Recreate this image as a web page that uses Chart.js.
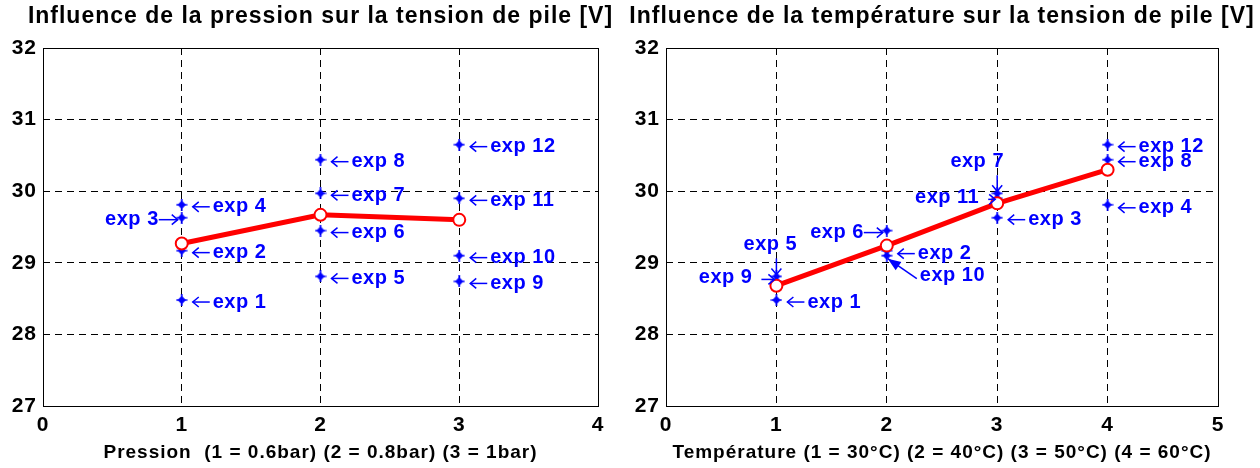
<!DOCTYPE html>
<html lang="fr">
<head>
<meta charset="utf-8">
<title>Tension de pile</title>
<script src="https://cdn.jsdelivr.net/npm/chart.js@4.4.1/dist/chart.umd.min.js"></script>
<style>
  html, body { margin: 0; padding: 0; background: #fff; }
  .rangee { display: flex; width: 1260px; height: 468px; }
  .rangee div { width: 630px; height: 468px; }
</style>
</head>
<body>
<div class="rangee">
  <div><canvas id="pressionChart" width="630" height="468"></canvas></div>
  <div><canvas id="temperatureChart" width="630" height="468"></canvas></div>
</div>
<script>
// Tension mesurée pour chacune des 12 expériences [V]
const expNoms = ['exp 1', 'exp 2', 'exp 3', 'exp 4', 'exp 5', 'exp 6',
                 'exp 7', 'exp 8', 'exp 9', 'exp 10', 'exp 11', 'exp 12'];
const tensionExp = [28.48, 29.17, 29.63, 29.81, 28.81, 29.45,
                    29.97, 30.44, 28.74, 29.10, 29.90, 30.65];

// Niveau de pression et de température de chaque expérience
const niveauPression = [1, 1, 1, 1, 2, 2, 2, 2, 3, 3, 3, 3];
const niveauTemperature = [1, 2, 3, 4, 1, 2, 3, 4, 1, 2, 3, 4];

// Tension moyenne par niveau
const moyennePression = [29.27, 29.67, 29.60];
const moyenneTemperature = [28.68, 29.24, 29.83, 30.30];

// Graduations
const ticksY = [27, 28, 29, 30, 31, 32];
const ticksXPression = [0, 1, 2, 3, 4];
const ticksXTemperature = [0, 1, 2, 3, 4, 5];

// Placement des étiquettes (par défaut : flèche à droite du point)
const placePression = {
  2: { sens: 'gauche' }
};
const placeTemperature = {
  1: { dy: 3 },
  3: { dy: 3 },
  4: { sens: 'haut', dx: -6 },
  5: { sens: 'gauche' },
  6: { sens: 'haut', dx: -20 },
  7: { dy: 2 },
  8: { sens: 'trait', ecart: 25, dy: -4 },
  9: { sens: 'diag' },
  10: { sens: 'trait', ecart: 19, dy: -1 }
};

const BLEU = '#0000ff';
const ROUGE = '#ff0000';
const POLICE = '"Liberation Sans", Arial, Helvetica, sans-serif';
const ESPACEMENT = '1px';

// marqueur des mesures : petit losange plein avec branches
function marqueurMesure() {
  const c = document.createElement('canvas');
  c.width = 12; c.height = 12;
  const g = c.getContext('2d');
  g.fillStyle = BLEU;
  g.strokeStyle = BLEU;
  g.lineWidth = 1.6;
  g.beginPath();
  g.moveTo(6, 1.5); g.lineTo(10, 6); g.lineTo(6, 10.5); g.lineTo(2, 6);
  g.closePath();
  g.fill();
  g.beginPath();
  g.moveTo(6, 0); g.lineTo(6, 12);
  g.moveTo(0.5, 6); g.lineTo(11.5, 6);
  g.stroke();
  return c;
}
const marqueur = marqueurMesure();

function fleche(ctx, x1, y1, x2, y2, pleine) {
  const ang = Math.atan2(y2 - y1, x2 - x1);
  ctx.beginPath();
  ctx.moveTo(x1, y1);
  ctx.lineTo(x2, y2);
  ctx.stroke();
  const L = pleine ? 13 : 6, W = 5;
  const bx = x2 - L * Math.cos(ang), by = y2 - L * Math.sin(ang);
  const px = -Math.sin(ang) * W, py = Math.cos(ang) * W;
  ctx.beginPath();
  if (pleine) {
    ctx.moveTo(x2, y2);
    ctx.lineTo(bx + px, by + py);
    ctx.lineTo(bx - px, by - py);
    ctx.closePath();
    ctx.fill();
  } else {
    ctx.moveTo(bx + px, by + py);
    ctx.lineTo(x2, y2);
    ctx.lineTo(bx - px, by - py);
    ctx.stroke();
  }
}

// texte un peu plus large, comme les polices du tracé d'origine
const espacement = {
  id: 'espacement',
  afterInit(chart) { chart.ctx.letterSpacing = ESPACEMENT; },
  beforeUpdate(chart) { chart.ctx.letterSpacing = ESPACEMENT; },
  beforeDraw(chart) { chart.ctx.letterSpacing = ESPACEMENT; }
};

// titre centré sur la zone de tracé, sans compression de largeur
const titre = {
  id: 'titre',
  afterDraw(chart, args, opts) {
    const { ctx, chartArea: a } = chart;
    ctx.save();
    ctx.font = 'bold 23px ' + POLICE;
    ctx.fillStyle = '#000';
    ctx.textAlign = 'center';
    ctx.textBaseline = 'middle';
    ctx.fillText(opts.texte, (a.left + a.right) / 2, 17);
    ctx.restore();
  }
};

// cadre plein autour de la zone de tracé
const cadre = {
  id: 'cadre',
  beforeDatasetsDraw(chart) {
    const { ctx, chartArea: a } = chart;
    ctx.save();
    ctx.strokeStyle = '#000';
    ctx.lineWidth = 1;
    ctx.strokeRect(Math.round(a.left) + 0.5, Math.round(a.top) + 0.5,
                   Math.round(a.width), Math.round(a.height));
    ctx.restore();
  }
};

// étiquettes "exp n" avec flèches
const etiquettes = {
  id: 'etiquettes',
  afterDatasetsDraw(chart, args, opts) {
    const { ctx } = chart;
    const meta = chart.getDatasetMeta(1);
    ctx.save();
    ctx.font = 'bold 20px ' + POLICE;
    ctx.letterSpacing = '0.5px';
    ctx.fillStyle = BLEU;
    ctx.strokeStyle = BLEU;
    ctx.lineWidth = 1.5;
    ctx.textBaseline = 'middle';
    meta.data.forEach((pt, i) => {
      const p = Object.assign({ sens: 'droite', dx: 0, dy: 2 }, opts.placement[i] || {});
      const x = pt.x, y = pt.y;
      const nom = expNoms[i];
      if (p.sens === 'droite') {
        fleche(ctx, x + 28, y + p.dy, x + 11, y + p.dy, false);
        ctx.textAlign = 'left';
        ctx.fillText(nom, x + 31, y + p.dy);
      } else if (p.sens === 'gauche') {
        fleche(ctx, x - 23, y + p.dy, x - 4, y + p.dy, false);
        ctx.textAlign = 'right';
        ctx.fillText(nom, x - 23, y + p.dy);
      } else if (p.sens === 'haut') {
        fleche(ctx, x, y - 18, x, y - 2, false);
        ctx.textAlign = 'center';
        ctx.fillText(nom, x + p.dx, y - 32);
      } else if (p.sens === 'trait') {
        fleche(ctx, x - p.ecart + 10, y + p.dy + 2, x - 2, y + p.dy + 2, false);
        ctx.textAlign = 'right';
        ctx.fillText(nom, x - p.ecart + 1, y + p.dy);
      } else if (p.sens === 'diag') {
        fleche(ctx, x + 30, y + 23, x + 1, y + 3, true);
        ctx.textAlign = 'left';
        ctx.fillText(nom, x + 33, y + 20);
      }
    });
    ctx.restore();
  }
};

function creerGraphique(id, texteTitre, titreX, niveaux, moyennes, ticksX, placement, largeurY, margeDroite) {
  const mesures = tensionExp.map((v, i) => ({ x: niveaux[i], y: v }));
  const ligne = moyennes.map((v, i) => ({ x: i + 1, y: v }));
  const grille = (bornes) => ({
    color: (c) => (c.tick && (c.tick.value === bornes[0] || c.tick.value === bornes[1])) ? 'rgba(0,0,0,0)' : '#000',
    lineWidth: 1,
    drawTicks: false
  });
  return new Chart(document.getElementById(id), {
    type: 'scatter',
    data: {
      datasets: [
        {
          label: 'moyenne',
          data: ligne,
          showLine: true,
          borderColor: ROUGE,
          borderWidth: 5,
          pointStyle: 'circle',
          pointRadius: 6,
          pointBorderWidth: 2,
          pointBorderColor: ROUGE,
          pointBackgroundColor: '#fff',
          order: 0
        },
        {
          label: 'mesures',
          data: mesures,
          showLine: false,
          pointStyle: marqueur,
          pointRadius: 6,
          order: 1
        }
      ]
    },
    options: {
      responsive: false,
      animation: false,
      devicePixelRatio: 1,
      layout: { padding: { left: 0, right: margeDroite, top: 48, bottom: 0 } },
      plugins: {
        legend: { display: false },
        tooltip: { enabled: false },
        title: { display: false },
        titre: { texte: texteTitre },
        etiquettes: { placement: placement }
      },
      scales: {
        x: {
          type: 'linear',
          min: ticksX[0],
          max: ticksX[ticksX.length - 1],
          afterBuildTicks: (s) => { s.ticks = ticksX.map(v => ({ value: v })); },
          afterFit: (s) => { s.height = 62; },
          grid: grille([ticksX[0], ticksX[ticksX.length - 1]]),
          border: { display: false, dash: [7, 5] },
          ticks: { color: '#000', padding: 7, maxRotation: 0,
                   font: { family: POLICE, size: 21, weight: 'bold' } },
          title: {
            display: true,
            text: titreX,
            color: '#000',
            font: { family: POLICE, size: 19, weight: 'bold', lineHeight: 1.2 },
            padding: { top: 0, bottom: 4 }
          }
        },
        y: {
          type: 'linear',
          min: ticksY[0],
          max: ticksY[ticksY.length - 1],
          afterBuildTicks: (s) => { s.ticks = ticksY.map(v => ({ value: v })); },
          afterFit: (s) => { s.width = largeurY; },
          grid: grille([ticksY[0], ticksY[ticksY.length - 1]]),
          border: { display: false, dash: [7, 5] },
          ticks: { color: '#000', padding: 6,
                   font: { family: POLICE, size: 21, weight: 'bold' } }
        }
      }
    },
    plugins: [espacement, titre, cadre, etiquettes]
  });
}

creerGraphique('pressionChart',
  'Influence de la pression sur la tension de pile [V]',
  'Pression  (1 = 0.6bar) (2 = 0.8bar) (3 = 1bar)',
  niveauPression, moyennePression, ticksXPression, placePression, 43, 32);

creerGraphique('temperatureChart',
  'Influence de la température sur la tension de pile [V]',
  'Température (1 = 30°C) (2 = 40°C) (3 = 50°C) (4 = 60°C)',
  niveauTemperature, moyenneTemperature, ticksXTemperature, placeTemperature, 36, 42);
</script>
</body>
</html>
